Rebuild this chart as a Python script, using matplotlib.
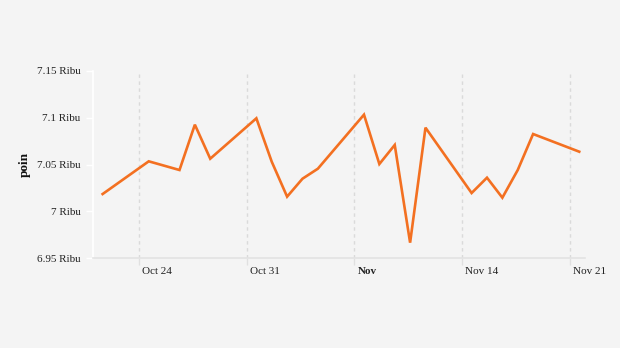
import pandas as pd
import matplotlib.pyplot as plt
import matplotlib.transforms as mtransforms
from matplotlib.ticker import FuncFormatter

# data (IHSG, poin)
tanggal = ["2022-10-21", "2022-10-24", "2022-10-26", "2022-10-27", "2022-10-28",
           "2022-10-31", "2022-11-01", "2022-11-02", "2022-11-03", "2022-11-04",
           "2022-11-07", "2022-11-08", "2022-11-09", "2022-11-10", "2022-11-11",
           "2022-11-14", "2022-11-15", "2022-11-16", "2022-11-17", "2022-11-18",
           "2022-11-21"]
nilai = [7018.4, 7053.4, 7044.1, 7092.6, 7056.2,
         7099.4, 7053.0, 7015.6, 7034.8, 7045.5,
         7103.3, 7050.5, 7070.9, 6966.4, 7089.4,
         7019.5, 7035.9, 7014.5, 7044.1, 7082.6,
         7063.7]

tick_tanggal = ["2022-10-24", "2022-10-31", "2022-11-07", "2022-11-14", "2022-11-21"]
tick_label = ["Oct 24", "Oct 31", "Nov", "Nov 14", "Nov 21"]
y_ticks = [6950, 7000, 7050, 7100, 7150]

BG = "#f4f4f4"

plt.rcParams["font.family"] = ["Liberation Serif", "DejaVu Serif"]

x = pd.to_datetime(tanggal) + pd.Timedelta(hours=15)

fig = plt.figure(figsize=(6.2, 3.48), dpi=100, facecolor=BG)
ax = fig.add_axes([93 / 620, 1 - 258 / 348, (585 - 93) / 620, (258 - 71) / 348])
ax.set_facecolor(BG)

ax.plot(x, nilai, color="#f37021", linewidth=1.9, solid_joinstyle="miter", zorder=3)

ax.set_xlim(pd.Timestamp("2022-10-21"), pd.Timestamp("2022-11-22"))
ax.set_ylim(6950, 7150)

xt = pd.to_datetime(tick_tanggal)
ax.set_xticks(xt)
ax.set_xticklabels([])

# label x digeser sedikit ke kanan dari garis tick
trans = ax.get_xaxis_transform() + mtransforms.ScaledTranslation(3 / 100, -13 / 100, fig.dpi_scale_trans)
for t, lab in zip(xt, tick_label):
    ax.text(t, 0, lab, transform=trans, ha="left", va="center", fontsize=8,
            color="#222222", fontweight="bold" if lab == "Nov" else "normal")

for t in xt:
    ax.axvline(t, color="#dadada", linewidth=1, linestyle=(0, (2.5, 2.5)), zorder=1)

ax.set_yticks(y_ticks)


def fmt_ribu(v, pos):
    r = round(v / 1000, 2)
    s = ("%.2f" % r).rstrip("0").rstrip(".")
    return s + " Ribu"


ax.yaxis.set_major_formatter(FuncFormatter(fmt_ribu))

ax.tick_params(axis="y", length=5, width=1, color="white", labelsize=8, pad=4, labelcolor="#222222")
ax.tick_params(axis="x", length=5, width=1, color="#e0e0e0")

for sp in ["top", "right"]:
    ax.spines[sp].set_visible(False)
ax.spines["left"].set_color("white")
ax.spines["left"].set_linewidth(1.2)
ax.spines["bottom"].set_color("#e3e3e3")
ax.spines["bottom"].set_linewidth(1.2)

ax.set_ylabel("poin", fontsize=9.5, fontweight="bold", color="#111111")
ax.yaxis.set_label_coords(-62 / 492, 0.5)

fig.savefig("out.png", dpi=100, facecolor=BG)
